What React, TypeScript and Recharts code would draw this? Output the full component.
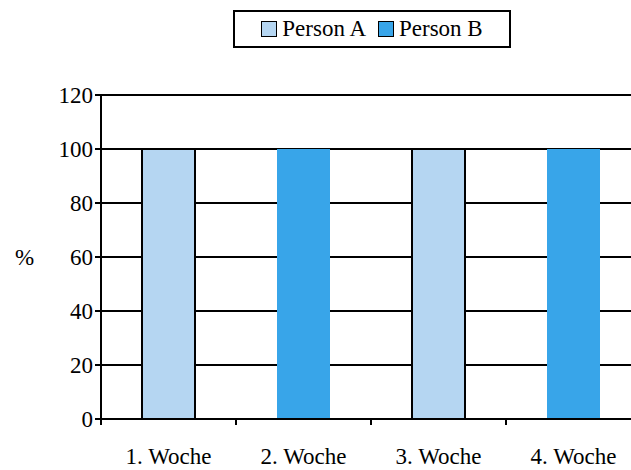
import { BarChart, Bar, XAxis, YAxis, CartesianGrid, Legend } from 'recharts';

const weeks = ['1. Woche', '2. Woche', '3. Woche', '4. Woche'];
const personA = [100, null, 100, null];
const personB = [null, 100, null, 100];
const yTicks = [0, 20, 40, 60, 80, 100, 120];

const COLOR_A = '#B5D6F2';
const COLOR_B = '#38A5E9';
const FONT = "'Liberation Serif', 'Times New Roman', serif";
const FS = 23;

const data = weeks.map((week, i) => ({ week, a: personA[i], b: personB[i] }));

const legendItems = [
  { name: 'Person A', color: COLOR_A },
  { name: 'Person B', color: COLOR_B },
];

function LegendBox() {
  return (
    <div
      style={{
        border: '2px solid #000',
        display: 'flex',
        alignItems: 'center',
        justifyContent: 'center',
        gap: 12,
        height: 38,
        boxSizing: 'border-box',
        fontFamily: FONT,
        fontSize: FS,
        color: '#000',
        background: '#fff',
      }}
    >
      {legendItems.map((item) => (
        <div key={item.name} style={{ display: 'flex', alignItems: 'center', gap: 5 }}>
          <span
            style={{
              display: 'inline-block',
              width: 14,
              height: 14,
              border: '1.5px solid #000',
              background: item.color,
            }}
          />
          <span>{item.name}</span>
        </div>
      ))}
    </div>
  );
}

// category ticks sit on the band edges, labels in the middle
const WeekTick = ({ x, y, payload }: any) => {
  const half = payload && payload.offset ? payload.offset : 67.5;
  return (
    <g>
      <line x1={x - half} x2={x - half} y1={y - 8} y2={y - 2} stroke="#000" strokeWidth={2} />
      <text x={x} y={y + 37} textAnchor="middle" fontFamily={FONT} fontSize={FS} fill="#000">
        {payload.value}
      </text>
    </g>
  );
};

export default function App() {
  return (
    <div
      style={{
        position: 'absolute',
        left: 0,
        top: 0,
        width: 631,
        height: 470,
        overflow: 'hidden',
        background: '#fff',
        fontFamily: FONT,
      }}
    >
      <BarChart width={641} height={470} data={data} margin={{ top: 95, right: 0, left: 0, bottom: 0 }}>
        <CartesianGrid vertical={false} stroke="#000" strokeWidth={2} />
        <XAxis
          dataKey="week"
          height={51}
          axisLine={{ stroke: '#000', strokeWidth: 2 }}
          tickLine={false}
          tick={<WeekTick />}
          interval={0}
        />
        <YAxis
          width={101}
          domain={[0, 120]}
          ticks={yTicks}
          interval={0}
          axisLine={{ stroke: '#000', strokeWidth: 2 }}
          tickLine={{ stroke: '#000', strokeWidth: 2 }}
          tick={{ fill: '#000', fontFamily: FONT, fontSize: FS }}
          label={{ value: '%', position: 'insideLeft', offset: 15, fill: '#000', fontFamily: FONT, fontSize: FS }}
        />
        <Legend
          layout="vertical"
          align="center"
          verticalAlign="middle"
          content={<LegendBox />}
          wrapperStyle={{ top: 10, left: 233, width: 278 }}
        />
        <Bar dataKey="a" name="Person A" stackId="s" barSize={53} fill={COLOR_A} stroke="#000" strokeWidth={2} isAnimationActive={false} />
        <Bar dataKey="b" name="Person B" stackId="s" barSize={53} fill={COLOR_B} isAnimationActive={false} />
      </BarChart>
    </div>
  );
}
